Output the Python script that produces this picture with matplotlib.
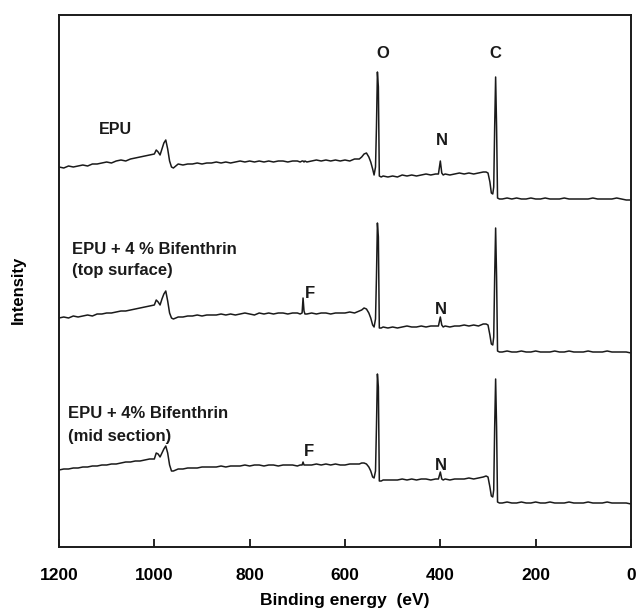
import numpy as np
import matplotlib.pyplot as plt

plt.rcParams['font.family'] = ['Liberation Sans', 'DejaVu Sans']

# XPS survey spectra, binding energy (eV), intensities in arbitrary units (offset traces)
energy = [1200, 1190, 1180, 1170, 1160, 1150, 1140, 1130, 1120, 1110,
          1100, 1090, 1080, 1070, 1060, 1050, 1040, 1030, 1020, 1010,
          1000, 996, 992, 988, 984, 980, 976, 972, 968, 964,
          960, 955, 950, 940, 930, 920, 910, 900, 890, 880,
          870, 860, 850, 840, 830, 820, 810, 800, 790, 780,
          770, 760, 750, 740, 730, 720, 710, 700, 694, 690,
          688, 686, 684, 680, 670, 660, 650, 640, 630, 620,
          610, 600, 590, 580, 570, 565, 560, 555, 550, 546,
          542, 539, 536, 534, 532, 530, 528, 524, 520, 510,
          500, 490, 480, 470, 460, 450, 440, 430, 420, 410,
          404, 400, 397, 394, 390, 380, 370, 360, 350, 340,
          330, 320, 310, 304, 300, 296, 293, 290, 288, 286,
          284, 282, 280, 276, 270, 260, 250, 240, 230, 220,
          210, 200, 190, 180, 170, 160, 150, 140, 130, 120,
          110, 100, 90, 80, 70, 60, 50, 40, 30, 20, 10, 0]

epu = [380, 379, 381, 380, 381, 382, 381, 383, 383, 384,
       385, 384, 386, 387, 386, 388, 389, 390, 391, 392,
       393, 397, 395, 392, 398, 404, 407, 398, 386, 380,
       379, 381, 383, 382, 383, 383, 384, 383, 384, 384,
       385, 384, 385, 384, 385, 386, 385, 386, 385, 386,
       385, 386, 385, 386, 386, 385, 386, 386, 385, 386,
       386, 385, 386, 385, 386, 387, 386, 387, 386, 387,
       386, 387, 386, 388, 388, 390, 393, 394, 390, 385,
       378, 372, 380, 420, 475, 460, 371, 370, 371, 370,
       371, 370, 372, 371, 372, 371, 372, 373, 372, 373,
       373, 386, 374, 372, 373, 372, 373, 374, 373, 374,
       373, 374, 375, 375, 374, 365, 354, 353, 360, 420,
       470, 420, 349, 348, 348, 349, 348, 349, 348, 348,
       349, 348, 348, 349, 348, 348, 348, 349, 348, 348,
       348, 348, 348, 349, 348, 348, 348, 348, 349, 348, 347, 347]

epu_top = [229, 230, 229, 231, 230, 231, 232, 231, 233, 233,
           234, 234, 235, 236, 236, 237, 238, 239, 240, 241,
           242, 247, 245, 242, 248, 253, 256, 246, 234, 229,
           228, 229, 230, 230, 231, 231, 232, 231, 232, 232,
           232, 233, 232, 233, 232, 233, 234, 233, 232, 234,
           233, 234, 233, 234, 234, 233, 234, 234, 233, 234,
           249, 236, 233, 233, 234, 233, 234, 234, 233, 234,
           234, 234, 235, 234, 236, 237, 239, 238, 234, 229,
           222, 220, 228, 270, 324, 310, 219, 219, 220, 219,
           220, 219, 220, 221, 220, 220, 221, 220, 221, 221,
           221, 230, 222, 220, 221, 220, 221, 221, 222, 221,
           222, 221, 223, 223, 222, 212, 203, 202, 210, 270,
           319, 270, 196, 195, 195, 196, 195, 195, 196, 195,
           195, 196, 195, 195, 195, 196, 195, 195, 196, 195,
           195, 195, 196, 195, 195, 195, 196, 195, 195, 195, 195, 194]

epu_mid = [77, 78, 78, 79, 79, 80, 80, 81, 81, 82,
           82, 83, 83, 84, 85, 85, 86, 86, 87, 88,
           88, 94, 93, 90, 94, 98, 101, 94, 82, 76,
           76, 77, 78, 78, 79, 79, 79, 80, 80, 80,
           80, 81, 80, 81, 81, 81, 82, 81, 82, 82,
           81, 82, 82, 81, 82, 82, 82, 81, 82, 82,
           85, 82, 82, 82, 82, 83, 82, 83, 82, 83,
           82, 82, 83, 83, 83, 84, 84, 83, 80, 76,
           70, 69, 76, 120, 173, 160, 66, 66, 67, 67,
           67, 67, 68, 67, 68, 67, 68, 68, 67, 68,
           68, 75, 68, 67, 68, 67, 68, 68, 68, 69,
           68, 69, 70, 71, 70, 60, 51, 50, 57, 120,
           168, 120, 45, 44, 44, 45, 44, 44, 45, 44,
           44, 45, 44, 44, 45, 44, 44, 44, 45, 44,
           44, 44, 45, 44, 44, 44, 45, 44, 44, 44, 44, 43]

xticks = [1200, 1000, 800, 600, 400, 200, 0]

fig = plt.figure(figsize=(6.36, 6.14), dpi=100)
ax = fig.add_axes([59/636, 67/614, 572/636, 532/614])

for s in [epu, epu_top, epu_mid]:
    ax.plot(energy, s, color='#1a1a1a', lw=1.1)

ax.set_xlim(1200, 0)
ax.set_ylim(0, 532)
ax.set_xticks(xticks)
ax.set_yticks([])
ax.tick_params(axis='x', direction='in', length=6, width=1.2, pad=15, labelsize=12.5)
for t in ax.get_xticklabels():
    t.set_fontweight('bold')
for sp in ax.spines.values():
    sp.set_linewidth(1.4)
    sp.set_color('#1a1a1a')

ax.set_xlabel('Binding energy  (eV)', fontsize=12.5, fontweight='bold', labelpad=7)
ax.set_ylabel('Intensity', fontsize=12, fontweight='bold')
ax.yaxis.set_label_coords(-0.058, 0.483)

tkw = dict(fontsize=12, fontweight='bold', color='#1a1a1a')
ax.text(1116, 417, 'EPU', ha='left', va='center', fontsize=11.5, fontweight='bold', color='#1a1a1a')
ax.text(1173, 297, 'EPU + 4 % Bifenthrin', ha='left', va='center', **tkw)
ax.text(1173, 276, '(top surface)', ha='left', va='center', **tkw)
ax.text(1181, 133, 'EPU + 4% Bifenthrin', ha='left', va='center', **tkw)
ax.text(1181, 110, '(mid section)', ha='left', va='center', **tkw)
ax.text(520, 493, 'O', ha='center', va='center', **tkw)
ax.text(285, 493, 'C', ha='center', va='center', **tkw)
ax.text(397, 406, 'N', ha='center', va='center', **tkw)
ax.text(399, 237, 'N', ha='center', va='center', **tkw)
ax.text(399, 82, 'N', ha='center', va='center', **tkw)
ax.text(673, 253, 'F', ha='center', va='center', **tkw)
ax.text(676, 95, 'F', ha='center', va='center', **tkw)

fig.savefig('out.png', dpi=100)
